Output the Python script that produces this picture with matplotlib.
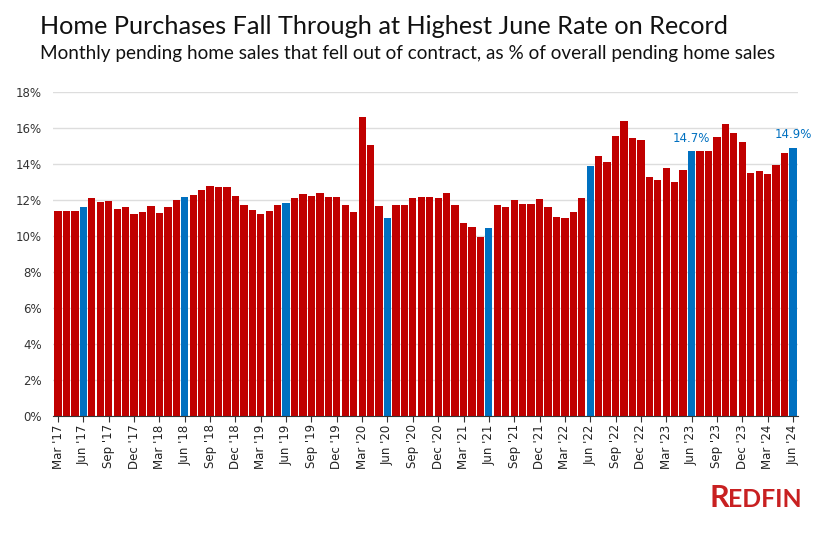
import numpy as np
import matplotlib.pyplot as plt

# monthly fall-through rate, Mar 2017 .. Jun 2024 (%)
rate_2017 = [11.4, 11.4, 11.4, 11.6, 12.1, 11.9, 11.95, 11.5, 11.6, 11.25]
rate_2018 = [11.35, 11.65, 11.3, 11.6, 12.0, 12.15, 12.3, 12.55, 12.8, 12.7, 12.7, 12.2]
rate_2019 = [11.75, 11.45, 11.25, 11.4, 11.7, 11.85, 12.1, 12.35, 12.2, 12.4, 12.15, 12.15]
rate_2020 = [11.7, 11.35, 16.6, 15.05, 11.65, 11.0, 11.75, 11.7, 12.1, 12.15, 12.15, 12.1]
rate_2021 = [12.4, 11.7, 10.7, 10.5, 9.95, 10.45, 11.75, 11.6, 12.0, 11.8, 11.8, 12.05]
rate_2022 = [11.6, 11.05, 11.0, 11.35, 12.1, 13.9, 14.45, 14.1, 15.55, 16.4, 15.45, 15.35]
rate_2023 = [13.3, 13.1, 13.8, 13.0, 13.65, 14.7, 14.7, 14.7, 15.5, 16.2, 15.75, 15.25]
rate_2024 = [13.5, 13.6, 13.45, 13.95, 14.6, 14.9]

rates = rate_2017 + rate_2018 + rate_2019 + rate_2020 + rate_2021 + rate_2022 + rate_2023 + rate_2024
months = ['Jan', 'Feb', 'Mar', 'Apr', 'May', 'Jun', 'Jul', 'Aug', 'Sep', 'Oct', 'Nov', 'Dec']
month_names = []
for i in range(len(rates)):
    m = (2 + i) % 12
    y = 17 + (2 + i) // 12
    month_names.append(f"{months[m]} '{y}")

labeled = {"Jun '23": '14.7%', "Jun '24": '14.9%'}

red = '#C00000'
blue = '#0070C0'
colors = [blue if n.startswith('Jun') else red for n in month_names]

plt.rcParams['font.family'] = 'DejaVu Sans'

fig = plt.figure(figsize=(8.37, 5.33), dpi=100)
ax = fig.add_axes([53 / 837, 117 / 533, 745 / 837, 324 / 533])

x = np.arange(len(rates))
ax.bar(x, rates, width=0.86, color=colors, zorder=2)

for i, n in enumerate(month_names):
    if n in labeled:
        ax.text(x[i], rates[i] + 0.35, labeled[n], ha='center', va='bottom',
                color=blue, fontsize=8.5, clip_on=False)

ax.set_ylim(0, 18)
ax.set_xlim(-0.6, len(rates) - 0.4)
ax.set_yticks(np.arange(0, 19, 2))
ax.set_yticklabels([f'{v}%' for v in range(0, 19, 2)], fontsize=8.5, color='#333333')
ax.set_xticks(x[::3])
ax.set_xticklabels(month_names[::3], rotation=90, fontsize=8.5, color='#222222')
ax.tick_params(axis='y', length=0, pad=8)
ax.tick_params(axis='x', length=4, width=0.8, color='#333333', pad=2)
ax.grid(axis='y', color='#dddddd', linewidth=1, zorder=0)
for s in ['top', 'right', 'left']:
    ax.spines[s].set_visible(False)
ax.spines['bottom'].set_color('#333333')
ax.spines['bottom'].set_zorder(3)

fig.text(40 / 837, 1 - 26 / 533, 'Home Purchases Fall Through at Highest June Rate on Record',
         fontsize=18.2, family='Lato', va='center', color='#111111')
fig.text(40 / 837, 1 - 53 / 533,
         'Monthly pending home sales that fell out of contract, as % of overall pending home sales',
         fontsize=13.6, family='Lato', va='center', color='#111111')

# logo
fig.text(710 / 837, 1 - 507 / 533, 'R', fontsize=22, fontweight='bold', family='Lato',
         color='#C82021', va='baseline')
fig.text(728 / 837, 1 - 507 / 533, 'EDFIN', fontsize=17.8, fontweight='bold', family='Lato',
         color='#C82021', va='baseline')

fig.savefig('out.png', dpi=100)
